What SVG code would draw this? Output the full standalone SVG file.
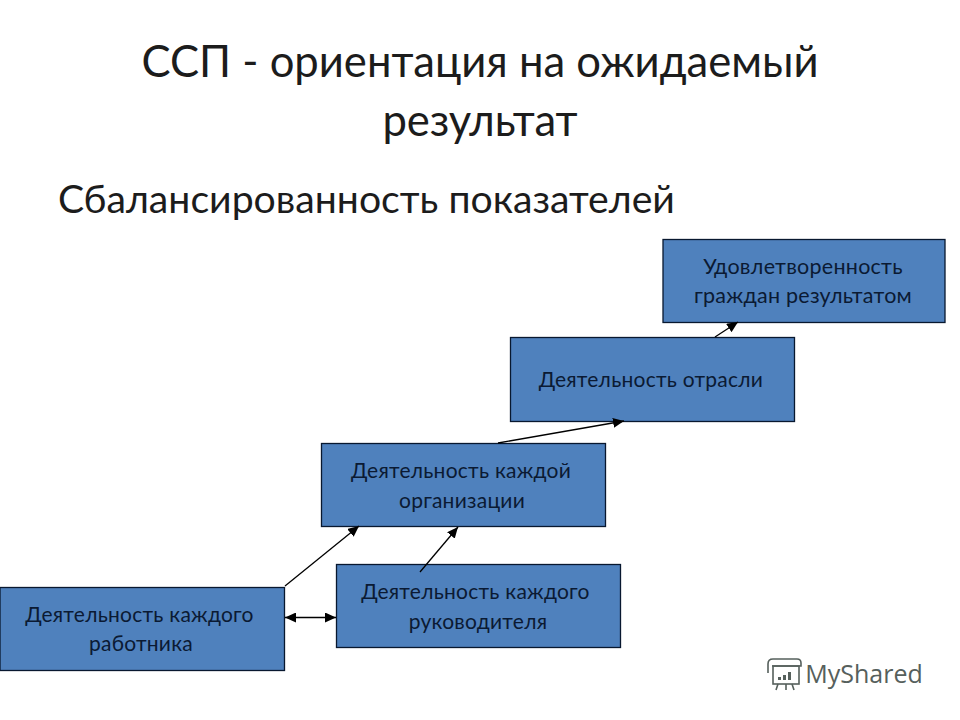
<svg xmlns="http://www.w3.org/2000/svg" width="960" height="720" viewBox="0 0 960 720">
<style>
text{font-family:Lato,"Open Sans","Noto Sans",sans-serif;text-anchor:middle}
.t{font-size:43.600px;fill:#1c1c1c}
.b{font-size:21px;fill:#0b1a33;letter-spacing:.25px}
.n{fill:#4f81bd;stroke:#08182f;stroke-width:1.3}
.c{stroke:#000;stroke-width:1.3;fill:none}
.w{fill:none;stroke:#56605c;stroke-width:1.6}
</style>
<defs>
<marker id="a" markerUnits="userSpaceOnUse" markerWidth="12" markerHeight="10" refX="11" refY="5" orient="auto-start-reverse"><path d="M0 0L11 5L0 10z" fill="#000"/></marker>
</defs>
<rect width="960" height="720" fill="#fff"/>
<text class="t" x="480" y="77">ССП - ориентация на ожидаемый</text>
<text class="t" x="480" y="136">результат</text>
<text class="t" x="366.500" y="213" style="font-size:39.200px">Сбалансированность показателей</text>
<g id="n1"><rect class="n" x="663" y="239.500" width="282" height="83"/><text class="b" x="803" y="274" style="font-size:21.500px">Удовлетворенность</text><text class="b" x="803" y="303" style="font-size:21.500px">граждан результатом</text></g>
<g id="n2"><rect class="n" x="510.500" y="337.500" width="284" height="84"/><text class="b" x="651" y="387">Деятельность отрасли</text></g>
<g id="n3"><rect class="n" x="321.500" y="443.500" width="284" height="83"/><text class="b" x="461" y="478">Деятельность каждой</text><text class="b" x="462" y="508">организации</text></g>
<g id="n4"><rect class="n" x="336.500" y="564.500" width="284" height="83"/><text class="b" x="475.500" y="599">Деятельность каждого</text><text class="b" x="478" y="629">руководителя</text></g>
<g id="n5"><rect class="n" x="0" y="587.500" width="284.500" height="83"/><text class="b" x="139.500" y="622">Деятельность каждого</text><text class="b" x="141" y="651">работника</text></g>
<g id="connectors">
<path class="c" marker-end="url(#a)" d="M285 586L359 526"/>
<path class="c" marker-end="url(#a)" d="M420 572L458 527"/>
<path class="c" marker-start="url(#a)" marker-end="url(#a)" d="M285 617.500L336 617.500"/>
<path class="c" marker-end="url(#a)" d="M498 443L624 421"/>
<path class="c" marker-end="url(#a)" d="M715 337L738 322"/>
</g>
<g id="watermark">
<path class="w" d="M768 673V664Q768 659 773 659H797Q801 659 801 663V666H772"/>
<rect class="w" x="773" y="666" width="26" height="18"/>
<path class="w" d="M778 684L776 690M786 684V690M792 684L794 690"/>
<path d="M778 677h3v3h-3zM783 675h3v5h-3zM788 672h3v8h-3z" fill="#56605c"/>
<text x="864" y="683" style="font-size:25px;fill:#56605c;font-family:'Open Sans',sans-serif">MyShared</text>
</g>
</svg>
